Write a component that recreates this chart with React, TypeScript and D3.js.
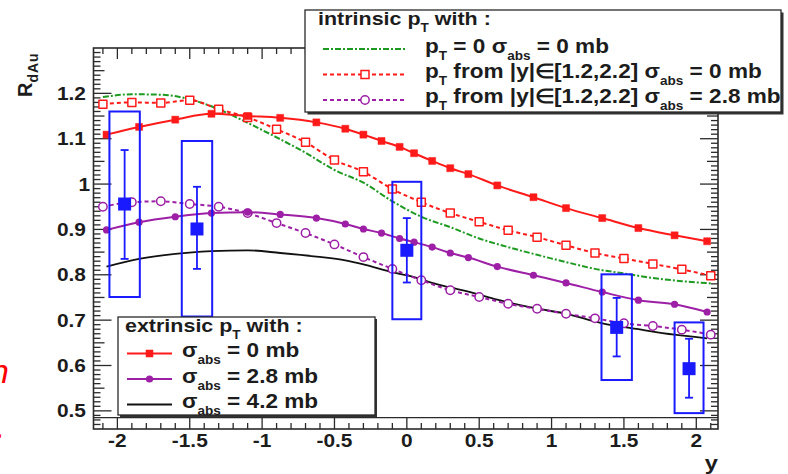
import React from "react";
import * as d3 from "d3";

const W = 788;
const H = 474;

// ---------- data ----------
const intrinsicRapidity = [-2.1, -1.9, -1.7, -1.5, -1.3, -1.1, -0.9, -0.7, -0.5, -0.3, -0.1, 0.1, 0.3, 0.5, 0.7, 0.9, 1.1, 1.3, 1.5, 1.7, 1.9, 2.1];
const intrinsicPt0Abs0 = [1.192, 1.198, 1.197, 1.187, 1.165, 1.135, 1.103, 1.069, 1.031, 1.003, 0.962, 0.928, 0.905, 0.88, 0.861, 0.844, 0.828, 0.813, 0.803, 0.793, 0.786, 0.781];
const intrinsicPtAbs0 = [1.176, 1.18, 1.179, 1.185, 1.165, 1.147, 1.121, 1.092, 1.053, 1.027, 0.989, 0.96, 0.936, 0.917, 0.898, 0.883, 0.865, 0.848, 0.836, 0.824, 0.812, 0.798];
const intrinsicPtAbs28 = [0.95, 0.96, 0.962, 0.956, 0.95, 0.936, 0.914, 0.892, 0.867, 0.839, 0.813, 0.788, 0.766, 0.751, 0.736, 0.725, 0.714, 0.704, 0.693, 0.687, 0.679, 0.668];

const extrinsicRapidity = [-2.075, -1.85, -1.6, -1.35, -1.1, -0.875, -0.625, -0.425, -0.3, -0.175, -0.05, 0.05, 0.175, 0.3, 0.425, 0.625, 0.875, 1.1, 1.35, 1.6, 1.85, 2.075];
const extrinsicAbs0 = [1.109, 1.126, 1.142, 1.155, 1.15, 1.146, 1.136, 1.122, 1.109, 1.095, 1.082, 1.068, 1.051, 1.035, 1.022, 0.997, 0.971, 0.947, 0.925, 0.903, 0.887, 0.874];
const extrinsicAbs28 = [0.899, 0.916, 0.928, 0.936, 0.938, 0.933, 0.925, 0.912, 0.901, 0.892, 0.88, 0.872, 0.861, 0.848, 0.838, 0.818, 0.799, 0.782, 0.762, 0.744, 0.735, 0.718];
const extrinsicAbs42 = [0.818, 0.835, 0.846, 0.852, 0.854, 0.848, 0.84, 0.832, 0.823, 0.812, 0.802, 0.795, 0.782, 0.772, 0.763, 0.745, 0.727, 0.714, 0.693, 0.68, 0.668, 0.66];

const dataRapidity = [-1.95, -1.45, 0, 1.45, 1.95];
const dataRdAu = [0.956, 0.901, 0.854, 0.684, 0.593];
const dataStatHigh = [1.075, 0.994, 0.925, 0.749, 0.659];
const dataStatLow = [0.835, 0.813, 0.783, 0.62, 0.529];
const dataSysHigh = [1.16, 1.095, 1.005, 0.801, 0.695];
const dataSysLow = [0.751, 0.708, 0.702, 0.568, 0.495];
const dataBinHalfWidth = [0.105, 0.105, 0.1, 0.105, 0.1];

const xTickValues = [-2, -1.5, -1, -0.5, 0, 0.5, 1, 1.5, 2];
const xTickLabels = ["-2", "-1.5", "-1", "-0.5", "0", "0.5", "1", "1.5", "2"];
const yTickValues = [0.5, 0.6, 0.7, 0.8, 0.9, 1.0, 1.1, 1.2];
const yTickLabels = ["0.5", "0.6", "0.7", "0.8", "0.9", "1", "1.1", "1.2"];
const xRange = [-2.165, 2.15];
const yRange = [0.46, 1.3];
const baseLineValue = 0.485;

// legend texts as segments: [text, isSubscript]
const legIntrTitle: [string, boolean][] = [["intrinsic p", false], ["T", true], [" with :", false]];
const legIntr1: [string, boolean][] = [["p", false], ["T", true], [" = 0 σ", false], ["abs", true], [" = 0 mb", false]];
const legIntr2: [string, boolean][] = [["p", false], ["T", true], [" from |y|∈[1.2,2.2] σ", false], ["abs", true], [" = 0 mb", false]];
const legIntr3: [string, boolean][] = [["p", false], ["T", true], [" from |y|∈[1.2,2.2] σ", false], ["abs", true], [" = 2.8 mb", false]];
const legExtrTitle: [string, boolean][] = [["extrinsic p", false], ["T", true], [" with :", false]];
const legExtr1: [string, boolean][] = [["σ", false], ["abs", true], [" = 0 mb", false]];
const legExtr2: [string, boolean][] = [["σ", false], ["abs", true], [" = 2.8 mb", false]];
const legExtr3: [string, boolean][] = [["σ", false], ["abs", true], [" = 4.2 mb", false]];

// ---------- styles ----------
const FONT = "'Liberation Sans', Arial, Helvetica, sans-serif";
const SX = 1.13;
const TXT = "#1c1c1c";
const RED = "#ff1a1a";
const PURPLE = "#9c1fa6";
const GREEN = "#1e9a22";
const BLUE = "#1a1aff";
const FRAME = "#2a2a2a";

const L = 93.5, R = 718, T = 48, B = 429;

function ST({ x, y, anchor = "start", size = 20, fill = TXT, children }: any) {
  return (
    <g transform={`translate(${x},${y}) scale(${SX},1)`}>
      <text textAnchor={anchor} fontSize={size} fontWeight="bold" fill={fill} fontFamily={FONT}>
        {children}
      </text>
    </g>
  );
}

function Rich({ x, y, size = 20, segs, subSize = 12, subDy = 7 }: any) {
  let prevSub = false;
  return (
    <g transform={`translate(${x},${y}) scale(${SX},1)`}>
      <text fontSize={size} fontWeight="bold" fill={TXT} fontFamily={FONT} style={{ whiteSpace: "pre" }}>
        {segs.map(([t, sub]: [string, boolean], i: number) => {
          const dy = sub && !prevSub ? subDy : !sub && prevSub ? -subDy : 0;
          prevSub = sub;
          return (
            <tspan key={i} dy={dy} fontSize={sub ? subSize : size}>{t}</tspan>
          );
        })}
      </text>
    </g>
  );
}

export default function App() {
  const x = d3.scaleLinear().domain(xRange).range([L, R]);
  const y = d3.scaleLinear().domain(yRange).range([B, T]);

  const line = (xs: number[], ys: number[]) =>
    d3.line<number>().x((_, i) => x(xs[i])).y((d) => y(d)).curve(d3.curveMonotoneX)(ys) || "";

  const xMinor = d3.range(-21, 22).map((i) => i / 10).filter((v) => v > xRange[0] && v < xRange[1]);
  const yMinor = d3.range(47, 130).map((i) => i / 100);

  const tickEls: any[] = [];
  xMinor.forEach((v, i) => {
    const major = Math.abs(v * 2 - Math.round(v * 2)) < 1e-6;
    const len = major ? 11 : 6;
    const px = x(v);
    tickEls.push(<line key={"xb" + i} x1={px} x2={px} y1={B} y2={B - len} stroke={FRAME} strokeWidth={1.3} />);
    tickEls.push(<line key={"xt" + i} x1={px} x2={px} y1={T} y2={T + len} stroke={FRAME} strokeWidth={1.3} />);
  });
  yMinor.forEach((v, i) => {
    const k = Math.round(v * 100);
    const len = k % 10 === 0 ? 18 : k % 5 === 0 ? 11 : 7;
    const py = y(v);
    tickEls.push(<line key={"yl" + i} x1={L} x2={L + len} y1={py} y2={py} stroke={FRAME} strokeWidth={1.3} />);
    tickEls.push(<line key={"yr" + i} x1={R} x2={R - len} y1={py} y2={py} stroke={FRAME} strokeWidth={1.3} />);
  });

  const sq = (cx: number, cy: number, s: number, key: string, fill: string, stroke: string, sw = 1.5) => (
    <rect key={key} x={cx - s / 2} y={cy - s / 2} width={s} height={s} fill={fill} stroke={stroke} strokeWidth={sw} />
  );

  return (
    <svg width={W} height={H} viewBox={`0 0 ${W} ${H}`} style={{ display: "block", position: "absolute", left: 0, top: 0, background: "#fff" }}>
      <defs>
        <clipPath id="plotClip">
          <rect x={L} y={T} width={R - L} height={B - T} />
        </clipPath>
      </defs>
      <rect x={0} y={0} width={W} height={H} fill="#fff" />

      {/* red slide text fragments at far left */}
      <text x={-10} y={383} fontSize={34} fontStyle="italic" fill="#ff0000" fontFamily={FONT}>n</text>
      <text x={-4} y={438} fontSize={34} fontStyle="italic" fill="#ff0000" fontFamily={FONT}>.</text>

      {/* frame */}
      <rect x={L} y={T} width={R - L} height={B - T} fill="none" stroke={FRAME} strokeWidth={1.6} />
      <line x1={L} x2={R} y1={y(baseLineValue)} y2={y(baseLineValue)} stroke={FRAME} strokeWidth={1.3} />
      {tickEls}

      {/* curves */}
      <g clipPath="url(#plotClip)" fill="none" strokeLinejoin="round">
        <path d={line(extrinsicRapidity, extrinsicAbs42)} stroke="#111" strokeWidth={1.8} />
        <path d={line(intrinsicRapidity, intrinsicPt0Abs0)} stroke={GREEN} strokeWidth={2} strokeDasharray="6,2,2,2" />
        <path d={line(intrinsicRapidity, intrinsicPtAbs0)} stroke={RED} strokeWidth={2} strokeDasharray="4,3" />
        <path d={line(intrinsicRapidity, intrinsicPtAbs28)} stroke={PURPLE} strokeWidth={2} strokeDasharray="4,3" />
        <path d={line(extrinsicRapidity, extrinsicAbs0)} stroke={RED} strokeWidth={2} />
        <path d={line(extrinsicRapidity, extrinsicAbs28)} stroke={PURPLE} strokeWidth={2} />
        {intrinsicRapidity.map((v, i) => sq(x(v), y(intrinsicPtAbs0[i]), 8, "os" + i, "#fff", RED, 1.5))}
        {intrinsicRapidity.map((v, i) => (
          <circle key={"oc" + i} cx={x(v)} cy={y(intrinsicPtAbs28[i])} r={4.2} fill="#fff" stroke={PURPLE} strokeWidth={1.5} />
        ))}
        {extrinsicRapidity.map((v, i) => sq(x(v), y(extrinsicAbs0[i]), 7, "fs" + i, RED, RED, 0.5))}
        {extrinsicRapidity.map((v, i) => (
          <circle key={"fc" + i} cx={x(v)} cy={y(extrinsicAbs28[i])} r={3.6} fill={PURPLE} />
        ))}
      </g>

      {/* data */}
      {dataRapidity.map((v, i) => {
        const cx = x(v);
        const hw = x(v + dataBinHalfWidth[i]) - cx;
        return (
          <g key={"d" + i}>
            <rect x={cx - hw} y={y(dataSysHigh[i])} width={2 * hw} height={y(dataSysLow[i]) - y(dataSysHigh[i])} fill="none" stroke={BLUE} strokeWidth={2} />
            <line x1={cx} x2={cx} y1={y(dataStatHigh[i])} y2={y(dataStatLow[i])} stroke={BLUE} strokeWidth={1.8} />
            <line x1={cx - 4} x2={cx + 4} y1={y(dataStatHigh[i])} y2={y(dataStatHigh[i])} stroke={BLUE} strokeWidth={1.8} />
            <line x1={cx - 4} x2={cx + 4} y1={y(dataStatLow[i])} y2={y(dataStatLow[i])} stroke={BLUE} strokeWidth={1.8} />
            <rect x={cx - 6.5} y={y(dataRdAu[i]) - 6.5} width={13} height={13} fill={BLUE} />
          </g>
        );
      })}

      {/* axis labels */}
      {xTickValues.map((v, i) => (
        <ST key={"xl" + i} x={x(v)} y={447} anchor="middle" size={18.5}>{xTickLabels[i]}</ST>
      ))}
      {yTickValues.map((v, i) => (
        <ST key={"yl" + i} x={yTickLabels[i] === "1" ? 90 : 86} y={y(v) + 6.5} anchor="end" size={18.5}>{yTickLabels[i]}</ST>
      ))}
      <ST x={718} y={470} anchor="end" size={21}>y</ST>
      <g transform="translate(32,97) rotate(-90)">
        <text fontSize={20} fontWeight="bold" fill={TXT} fontFamily={FONT}>
          <tspan>R</tspan>
          <tspan fontSize={14} dy={6} letterSpacing={1}>dAu</tspan>
        </text>
      </g>

      {/* legend: intrinsic */}
      <rect x={307.5} y={12.5} width={476} height={102} fill="#333" />
      <rect x={305} y={10} width={476} height={102} fill="#fff" stroke={FRAME} strokeWidth={1.3} />
      <Rich x={318} y={25} size={19} segs={legIntrTitle} />
      <line x1={323} x2={407} y1={49} y2={49} stroke={GREEN} strokeWidth={2} strokeDasharray="6,2,2,2" />
      <Rich x={425} y={53} segs={legIntr1} />
      <line x1={323} x2={407} y1={74.5} y2={74.5} stroke={RED} strokeWidth={2} strokeDasharray="4,3" />
      {sq(365, 74.5, 8, "lg1", "#fff", RED, 1.5)}
      <Rich x={425} y={78} segs={legIntr2} />
      <line x1={323} x2={407} y1={100} y2={100} stroke={PURPLE} strokeWidth={2} strokeDasharray="4,3" />
      <circle cx={365} cy={100} r={4.2} fill="#fff" stroke={PURPLE} strokeWidth={1.5} />
      <Rich x={425} y={103} segs={legIntr3} />

      {/* legend: extrinsic */}
      <rect x={120} y={319} width={257} height={98} fill="#333" />
      <rect x={118} y={317} width={257} height={98} fill="#fff" stroke={FRAME} strokeWidth={1.3} />
      <Rich x={125} y={332} size={19} segs={legExtrTitle} />
      <line x1={127} x2={172} y1={353.5} y2={353.5} stroke={RED} strokeWidth={2} />
      {sq(149.5, 353.5, 7, "lg2", RED, RED, 0.5)}
      <Rich x={182} y={357} segs={legExtr1} />
      <line x1={127} x2={172} y1={379} y2={379} stroke={PURPLE} strokeWidth={2} />
      <circle cx={149.5} cy={379} r={3.6} fill={PURPLE} />
      <Rich x={182} y={383} segs={legExtr2} />
      <line x1={127} x2={172} y1={404.5} y2={404.5} stroke="#111" strokeWidth={1.8} />
      <Rich x={182} y={408} segs={legExtr3} />
    </svg>
  );
}
